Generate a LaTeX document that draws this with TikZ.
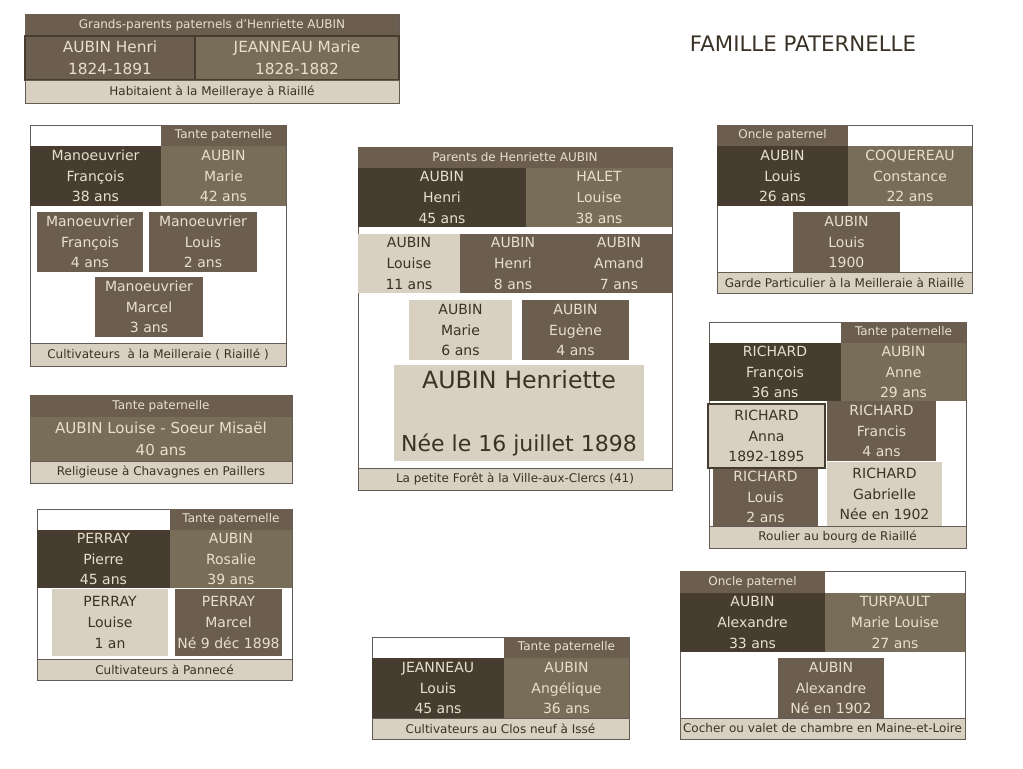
\documentclass[tikz,border=0pt]{standalone}
\usepackage{fontspec}
\setmainfont{DejaVu Sans}
\definecolor{husbcol}{RGB}{70,60,48}
\definecolor{wifecol}{RGB}{120,109,88}
\definecolor{kidcol}{RGB}{107,94,79}
\definecolor{palecol}{RGB}{216,208,192}
\definecolor{lighttext}{RGB}{232,224,204}
\definecolor{darktext}{RGB}{58,50,38}
\definecolor{framecol}{RGB}{100,92,84}
\usetikzlibrary{positioning}

\begin{document}
\begin{tikzpicture}[x=0.75pt, y=-0.75pt,
		sz/.style 2 args={minimum width=#1*0.75pt, minimum height=#2*0.75pt},
		cell/.style={inner sep=0pt, outer sep=0pt, align=center, font=\fontsize{10.5}{15.5}\selectfont},
		husb/.style={cell, fill=husbcol, text=lighttext},
		wife/.style={cell, fill=wifecol, text=lighttext},
		kid/.style={cell, fill=kidcol, text=lighttext},
		pale/.style={cell, fill=palecol, text=darktext},
		band/.style={cell, fill=kidcol, text=lighttext, font=\fontsize{9}{10}\selectfont},
		foot/.style={cell, draw=framecol, fill=palecol, text=darktext, font=\fontsize{9}{10}\selectfont},
		famframe/.style={draw=framecol, fill=white, inner sep=0pt, outer sep=0pt}
		]
		\useasboundingbox (0,0) rectangle (1023,768);
		
		\node[text=darktext, font=\fontsize{16}{18}\selectfont] (titre) at (803,44) {FAMILLE PATERNELLE};
		
		% grands-parents
		\node[famframe, sz={374}{89}, anchor=north west] (gf) at (25,14) {};
		\node[band, sz={374}{22}, anchor=north] (gh) at (gf.north) {Grands-parents paternels d’Henriette AUBIN};
		\node[kid, sz={170}{44}, anchor=north west, font=\fontsize{11.5}{16.5}\selectfont] (ghu) at (25,36) {AUBIN Henri\\1824-1891};
		\node[wife, sz={204}{44}, right=0pt of ghu, font=\fontsize{11.5}{16.5}\selectfont] (gwi) {JEANNEAU Marie\\1828-1882};
		\draw[husbcol, line width=2pt] (ghu.north west) rectangle (gwi.south east) (ghu.north east) -- (ghu.south east);
		\node[foot, sz={374}{23}, anchor=south] (gft) at (gf.south) {Habitaient à la Meilleraye à Riaillé};
		
		% Manoeuvrier
		\node[famframe, sz={256}{241}, anchor=north west] (mf) at (30,125) {};
		\node[husb, sz={131}{60}, anchor=north west] (mhu) at (30,146) {Manoeuvrier\\François\\38 ans};
		\node[wife, sz={125}{60}, right=0pt of mhu] (mwi) {AUBIN\\Marie\\42 ans};
		\node[band, sz={125}{21}, above=0pt of mwi] (mh) {Tante paternelle};
		\node[kid, sz={106}{60}, anchor=north west] (mc1) at (37,212) {Manoeuvrier\\François\\4 ans};
		\node[kid, sz={108}{60}, anchor=north west] (mc2) at (149,212) {Manoeuvrier\\Louis\\2 ans};
		\node[kid, sz={108}{60}, anchor=north west] (mc3) at (95,277) {Manoeuvrier\\Marcel\\3 ans};
		\node[foot, sz={256}{23}, anchor=south] (mft) at (mf.south) {Cultivateurs\ \ à la Meilleraie ( Riaillé )};
		
		% Soeur Misael
		\node[famframe, sz={262}{88}, anchor=north west] (sf) at (30,395) {};
		\node[band, sz={262}{22}, anchor=north] (sh) at (sf.north) {Tante paternelle};
		\node[wife, sz={262}{44}, below=0pt of sh, font=\fontsize{11.3}{16.5}\selectfont] (swi) {AUBIN Louise - Soeur Misaël\\40 ans};
		\node[foot, sz={262}{22}, anchor=south] (sft) at (sf.south) {Religieuse à Chavagnes en Paillers};
		
		% Perray
		\node[famframe, sz={255}{171}, anchor=north west] (yf) at (37,509) {};
		\node[husb, sz={133}{58}, anchor=north west] (yhu) at (37,530) {PERRAY\\Pierre\\45 ans};
		\node[wife, sz={122}{58}, right=0pt of yhu] (ywi) {AUBIN\\Rosalie\\39 ans};
		\node[band, sz={122}{21}, above=0pt of ywi] (yh) {Tante paternelle};
		\node[pale, sz={116}{67}, anchor=north west] (yc1) at (52,589) {PERRAY\\Louise\\1 an};
		\node[kid, sz={107}{67}, anchor=north west] (yc2) at (175,589) {PERRAY\\Marcel\\Né 9 déc 1898};
		\node[foot, sz={255}{21}, anchor=south] (yft) at (yf.south) {Cultivateurs à Pannecé};
		
		% parents
		\node[famframe, sz={314}{343}, anchor=north west] (pf) at (358,147) {};
		\node[band, sz={314}{21}, anchor=north] (ph) at (pf.north) {Parents de Henriette AUBIN};
		\node[husb, sz={168}{59}, anchor=north west] (phu) at (358,168) {AUBIN\\Henri\\45 ans};
		\node[wife, sz={146}{59}, right=0pt of phu] (pwi) {HALET\\Louise\\38 ans};
		\node[pale, sz={102}{59}, anchor=north west] (pc1) at (358,234) {AUBIN\\Louise\\11 ans};
		\node[kid, sz={106}{59}, right=0pt of pc1] (pc2) {AUBIN\\Henri\\8 ans};
		\node[kid, sz={106}{59}, right=0pt of pc2] (pc3) {AUBIN\\Amand\\7 ans};
		\node[pale, sz={103}{60}, anchor=north west] (pc4) at (409,300) {AUBIN\\Marie\\6 ans};
		\node[kid, sz={107}{60}, anchor=north west] (pc5) at (522,300) {AUBIN\\Eugène\\4 ans};
		\node[pale, sz={250}{96}, anchor=north west, font=\fontsize{16.5}{47}\selectfont] (henriette) at (394,365) {{\fontsize{17.8}{47}\selectfont AUBIN Henriette}\\Née le 16 juillet 1898};
		\node[foot, sz={314}{22}, anchor=south] (pft) at (pf.south) {La petite Forêt à la Ville-aux-Clercs (41)};
		
		% Jeanneau
		\node[famframe, sz={257}{102}, anchor=north west] (jf) at (372,637) {};
		\node[husb, sz={132}{60}, anchor=north west] (jhu) at (372,658) {JEANNEAU\\Louis\\45 ans};
		\node[wife, sz={125}{60}, right=0pt of jhu] (jwi) {AUBIN\\Angélique\\36 ans};
		\node[band, sz={125}{21}, above=0pt of jwi] (jh) {Tante paternelle};
		\node[foot, sz={257}{21}, anchor=south] (jft) at (jf.south) {Cultivateurs au Clos neuf à Issé};
		
		% oncle Louis
		\node[famframe, sz={255}{168}, anchor=north west] (lf) at (717,125) {};
		\node[husb, sz={131}{60}, anchor=north west] (lhu) at (717,146) {AUBIN\\Louis\\26 ans};
		\node[wife, sz={124}{60}, right=0pt of lhu] (lwi) {COQUEREAU\\Constance\\22 ans};
		\node[band, sz={131}{21}, above=0pt of lhu] (lh) {Oncle paternel};
		\node[kid, sz={107}{60}, anchor=north west] (lc1) at (793,212) {AUBIN\\Louis\\1900};
		\node[foot, sz={255}{21}, anchor=south] (lft) at (lf.south) {Garde Particulier à la Meilleraie à Riaillé};
		
		% Richard
		\node[famframe, sz={257}{226}, anchor=north west] (rf) at (709,322) {};
		\node[husb, sz={132}{58}, anchor=north west] (rhu) at (709,343) {RICHARD\\François\\36 ans};
		\node[wife, sz={125}{58}, right=0pt of rhu] (rwi) {AUBIN\\Anne\\29 ans};
		\node[band, sz={125}{21}, above=0pt of rwi] (rh) {Tante paternelle};
		\node[kid, sz={109}{60}, anchor=north west] (rc2) at (827,401) {RICHARD\\Francis\\4 ans};
		\node[kid, sz={105}{58}, anchor=north west] (rc3) at (713,468) {RICHARD\\Louis\\2 ans};
		\node[pale, sz={115}{64}, anchor=north west] (rc4) at (827,462) {RICHARD\\Gabrielle\\Née en 1902};
		\node[pale, draw=husbcol, line width=1.5pt, sz={117}{64}, anchor=north west] (rc1) at (708,404) {RICHARD\\Anna\\1892-1895};
		\node[foot, sz={257}{22}, anchor=south] (rft) at (rf.south) {Roulier au bourg de Riaillé};
		
		% oncle Alexandre
		\node[famframe, sz={285}{168}, anchor=north west] (af) at (680,571) {};
		\node[husb, sz={145}{59}, anchor=north west] (ahu) at (680,593) {AUBIN\\Alexandre\\33 ans};
		\node[wife, sz={140}{59}, right=0pt of ahu] (awi) {TURPAULT\\Marie Louise\\27 ans};
		\node[band, sz={145}{22}, above=0pt of ahu] (ah) {Oncle paternel};
		\node[kid, sz={106}{60}, anchor=north west] (ac1) at (778,658) {AUBIN\\Alexandre\\Né en 1902};
		\node[foot, sz={285}{21}, anchor=south] (aft) at (af.south) {Cocher ou valet de chambre en Maine-et-Loire};
	\end{tikzpicture}
\end{document}
